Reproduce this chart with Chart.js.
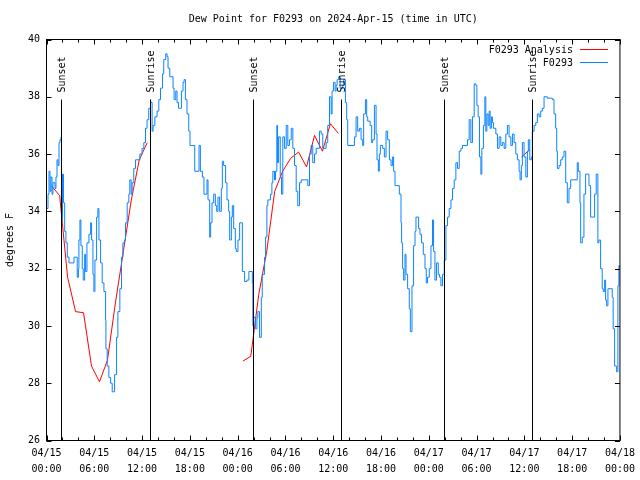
<!DOCTYPE html>
<html>
<head>
<meta charset="utf-8">
<script src="https://cdn.jsdelivr.net/npm/chart.js@4.4.1/dist/chart.umd.min.js"></script>
<style>
  html, body { margin: 0; padding: 0; background: #fff; }
  #chart { display: block; }
</style>
</head>
<body>
<canvas id="chart" width="640" height="480"></canvas>
<script>
const titleText = 'Dew Point for F0293 on 2024-Apr-15 (time in UTC)';
const yAxisTitle = 'degrees F';

// x axis in hours since 2024-04-15 00:00 UTC
const xTickLabels = [
    ['04/15', '00:00'], ['04/15', '06:00'], ['04/15', '12:00'], ['04/15', '18:00'],
    ['04/16', '00:00'], ['04/16', '06:00'], ['04/16', '12:00'], ['04/16', '18:00'],
    ['04/17', '00:00'], ['04/17', '06:00'], ['04/17', '12:00'], ['04/17', '18:00'],
    ['04/18', '00:00']
];

// sunset / sunrise markers
const eventHours = [1.83, 12.97, 25.87, 36.92, 49.92, 60.97];
const eventLabels = ['Sunset', 'Sunrise', 'Sunset', 'Sunrise', 'Sunset', 'Sunrise'];

// F0293 Analysis (hourly, null = gap)
const redHours = [0.65, 1.65, 2.65, 3.65, 4.65, 5.65, 6.65, 7.65, 8.65, 9.65, 10.65, 11.65, 12.65, null,
    24.65, 25.65, 26.65, 27.65, 28.65, 29.65, 30.65, 31.65, 32.65, 33.65, 34.65, 35.65, 36.65, null,
    59.65, 60.65];
const redValues = [34.88, 34.55, 31.7, 30.5, 30.46, 28.6, 28.05, 28.8, 30.8, 32.6, 34.4, 35.8, 36.4, null,
    28.77, 28.94, 31.1, 32.6, 34.7, 35.4, 35.85, 36.07, 35.55, 36.65, 36.1, 37.06, 36.72, null,
    35.9, 36.15];

// F0293 observations
const blueHours = [
    0.00, 0.19, 0.31, 0.44, 0.56, 0.69, 0.81, 1.07, 1.19, 1.32, 1.44, 1.57, 1.69, 1.82, 1.88, 2.01, 2.13, 2.28, 2.44, 2.61,
    2.82, 3.45, 3.86, 4.01, 4.07, 4.20, 4.32, 4.49, 4.61, 4.79, 4.91, 5.08, 5.33, 5.54, 5.66, 5.83, 5.95, 6.08, 6.29, 6.45,
    6.58, 6.79, 6.99, 7.21, 7.42, 7.46, 7.62, 7.83, 8.05, 8.25, 8.55, 8.80, 8.96, 9.21, 9.42, 9.59, 9.80, 9.92, 10.13, 10.34,
    10.46, 10.63, 10.75, 10.96, 11.18, 11.72, 12.00, 12.22, 12.43, 12.63, 12.84, 13.06, 13.26, 13.38, 13.60, 13.88, 14.10, 14.31, 14.56, 14.72,
    14.97, 15.14, 15.26, 15.48, 15.89, 16.02, 16.23, 16.39, 16.57, 16.94, 17.14, 17.27, 17.44, 17.64, 17.86, 18.02, 18.61, 19.15, 19.32, 19.57,
    19.77, 20.15, 20.28, 20.49, 20.61, 20.78, 20.99, 21.20, 21.37, 21.53, 21.74, 21.95, 22.08, 22.24, 22.49, 22.66, 22.87, 23.00, 23.21, 23.33,
    23.50, 23.71, 23.83, 24.04, 24.25, 24.59, 24.87, 25.16, 25.41, 25.84, 25.91, 26.00, 26.22, 26.42, 26.54, 26.75, 26.97, 27.09, 27.38, 27.51,
    27.67, 27.79, 28.13, 28.30, 28.42, 28.63, 28.76, 28.92, 29.01, 29.14, 29.35, 29.51, 29.67, 29.89, 30.10, 30.30, 30.51, 30.73, 30.93, 31.14,
    31.35, 31.55, 31.77, 31.98, 32.81, 33.02, 33.23, 33.43, 33.65, 33.86, 34.27, 34.49, 34.69, 35.11, 35.31, 35.53, 35.74, 35.86, 36.03, 36.24,
    36.37, 36.49, 36.69, 36.87, 37.19, 37.32, 37.53, 37.69, 37.82, 38.66, 38.87, 39.07, 39.29, 39.50, 39.70, 39.82, 40.04, 40.20, 40.33, 40.63,
    40.83, 40.95, 41.17, 41.38, 41.50, 41.67, 41.79, 41.92, 42.21, 42.42, 42.63, 42.83, 43.05, 43.26, 43.46, 43.58, 43.76, 44.30, 44.51, 44.59,
    44.71, 44.84, 45.01, 45.14, 45.34, 45.55, 45.68, 45.89, 46.09, 46.27, 46.39, 46.72, 46.89, 47.09, 47.31, 47.52, 47.68, 47.84, 48.06, 48.27,
    48.47, 48.60, 48.77, 48.97, 49.19, 49.35, 49.52, 49.72, 49.94, 50.15, 50.35, 50.56, 50.78, 50.98, 51.19, 51.40, 51.60, 51.82, 52.03, 52.23,
    52.86, 53.07, 53.28, 53.48, 53.70, 53.91, 54.04, 54.20, 54.36, 54.54, 54.66, 54.86, 55.04, 55.16, 55.29, 55.45, 55.58, 55.70, 55.86, 55.99,
    56.12, 56.42, 56.62, 56.83, 57.04, 57.24, 57.46, 57.67, 57.87, 58.08, 58.30, 58.50, 58.71, 58.92, 59.12, 59.34, 59.46, 59.62, 59.75, 59.96,
    60.18, 60.38, 60.50, 60.68, 60.88, 61.00, 61.22, 61.43, 61.63, 61.84, 62.05, 62.26, 62.47, 62.88, 63.51, 63.72, 63.93, 64.06, 64.14, 64.35,
    64.56, 64.76, 64.97, 65.19, 65.39, 65.60, 65.81, 66.64, 66.77, 66.98, 67.07, 67.27, 67.48, 67.69, 68.11, 68.32, 68.82, 69.02, 69.23, 69.36,
    69.57, 69.77, 69.90, 70.08, 70.20, 70.33, 70.49, 71.03, 71.15, 71.33, 71.58, 71.74, 71.87, 72.00
];
const blueValues = [
    34.1, 34.6, 35.4, 34.7, 35.2, 34.6, 35.0, 34.8, 35.2, 35.8, 35.6, 36.4, 36.5, 36.6, 33.7, 35.3, 34.3, 33.3, 32.9, 32.4,
    32.2, 32.4, 31.7, 32.0, 33.0, 33.7, 32.8, 32.0, 31.6, 32.5, 31.9, 32.9, 33.2, 33.6, 33.0, 31.8, 31.2, 32.3, 33.8, 34.1,
    33.0, 32.2, 31.5, 31.2, 30.2, 29.2, 28.6, 28.2, 28.0, 27.7, 28.3, 29.6, 30.5, 31.3, 32.4, 32.9, 33.0, 33.6, 34.3, 34.6,
    35.1, 34.6, 35.0, 35.5, 35.8, 36.0, 36.2, 36.4, 36.9, 37.2, 37.6, 37.8, 36.8, 37.0, 37.3, 37.5, 37.9, 38.3, 38.8, 39.3,
    39.5, 39.4, 39.0, 38.7, 38.3, 37.9, 38.2, 37.8, 37.6, 38.2, 38.5, 38.6, 37.9, 37.4, 36.8, 36.3, 35.4, 36.3, 35.4, 35.2,
    34.6, 35.1, 34.4, 33.1, 33.6, 34.3, 34.6, 34.2, 34.0, 34.5, 34.0, 34.8, 35.75, 35.6, 35.0, 34.4, 34.0, 33.0, 33.8, 34.2,
    33.4, 32.7, 32.6, 33.0, 33.6, 31.9, 31.55, 31.6, 31.9, 31.5, 30.0, 30.3, 29.9, 30.3, 30.5, 29.6, 31.0, 31.8, 32.4, 33.1,
    34.2, 34.4, 34.6, 35.0, 35.4, 35.1, 35.4, 37.0, 35.7, 36.6, 35.2, 34.6, 36.6, 36.2, 37.0, 36.3, 36.5, 36.9, 36.2, 35.6,
    34.7, 34.2, 35.0, 35.1, 34.9, 36.0, 36.3, 35.7, 36.0, 36.2, 36.8, 36.7, 36.2, 36.4, 37.0, 38.0, 37.4, 38.2, 38.5, 38.2,
    38.4, 38.6, 38.7, 38.3, 38.4, 38.6, 37.8, 37.2, 36.3, 36.6, 37.3, 36.8, 36.9, 36.5, 36.3, 37.4, 37.9, 37.3, 37.15, 37.0,
    36.4, 36.5, 37.7, 36.7, 35.8, 35.4, 36.0, 36.3, 36.2, 35.9, 36.8, 36.5, 35.8, 35.6, 35.9, 35.4, 34.9, 34.6, 33.6, 32.9,
    32.0, 31.6, 32.5, 31.8, 31.3, 30.6, 29.8, 31.4, 32.8, 33.3, 33.8, 33.4, 33.2, 32.9, 32.5, 32.0, 31.5, 31.7, 32.0, 32.8,
    33.7, 32.6, 31.6, 32.2, 31.8, 31.7, 31.4, 31.8, 32.3, 33.5, 33.8, 34.1, 34.4, 34.8, 35.1, 35.7, 35.5, 36.1, 36.2, 36.3,
    36.5, 37.2, 36.4, 37.3, 38.45, 38.4, 37.7, 37.3, 35.9, 35.3, 36.2, 37.0, 38.0, 36.8, 37.4, 37.0, 37.5, 36.9, 37.3, 37.1,
    36.9, 36.7, 36.2, 36.6, 36.3, 36.4, 36.2, 36.7, 37.0, 36.6, 36.3, 36.7, 36.4, 36.0, 35.8, 35.4, 35.1, 35.6, 36.4, 35.9,
    35.2, 36.1, 36.5, 35.8, 35.9, 36.8, 37.0, 37.1, 37.4, 37.3, 37.5, 37.6, 38.0, 37.95, 37.9, 37.4, 36.9, 36.1, 35.5, 35.6,
    35.8, 35.9, 36.1, 35.0, 34.3, 34.8, 35.1, 35.7, 35.4, 34.3, 32.9, 33.1, 34.6, 35.3, 34.9, 33.8, 34.6, 35.3, 32.9, 33.0,
    32.0, 31.3, 31.2, 31.6, 30.9, 30.7, 31.3, 31.0, 29.9, 28.6, 28.4, 31.4, 32.1, 32.0
];

const fontFamily = '"DejaVu Sans Mono", monospace';
Chart.defaults.font.family = fontFamily;
Chart.defaults.font.size = 10;
Chart.defaults.color = '#000';

function toPoints(xs, ys) {
    return xs.map((x, i) => ({ x: x, y: ys[i] }));
}

// draws the gnuplot-like frame, inner ticks, markers, title and key
const frame = {
    id: 'frame',
    beforeDraw(c) {
        const ctx = c.ctx;
        ctx.save();
        ctx.fillStyle = '#fff';
        ctx.fillRect(0, 0, c.width, c.height);
        ctx.restore();
    },
    afterDatasetsDraw(c) {
        const ctx = c.ctx;
        const a = c.chartArea;
        const xs = c.scales.x;
        const ys = c.scales.y;
        ctx.save();
        ctx.strokeStyle = '#000';
        ctx.lineWidth = 1;

        // sunrise / sunset lines
        const lineTop = a.top + 60;
        eventHours.forEach((h, i) => {
            const px = Math.round(xs.getPixelForValue(h)) + 0.5;
            ctx.beginPath();
            ctx.moveTo(px, lineTop);
            ctx.lineTo(px, a.bottom);
            ctx.stroke();
            ctx.save();
            ctx.translate(px + 1, lineTop - 7);
            ctx.rotate(-Math.PI / 2);
            ctx.fillStyle = '#000';
            ctx.font = '10px ' + fontFamily;
            ctx.textAlign = 'left';
            ctx.textBaseline = 'middle';
            ctx.fillText(eventLabels[i], 0, 0);
            ctx.restore();
        });

        // border
        ctx.strokeRect(a.left, a.top, a.right - a.left, a.bottom - a.top);

        // y ticks on both sides
        for (let v = ys.min; v <= ys.max; v += 2) {
            const py = Math.round(ys.getPixelForValue(v)) + 0.5;
            ctx.beginPath();
            ctx.moveTo(a.left, py); ctx.lineTo(a.left + 5, py);
            ctx.moveTo(a.right, py); ctx.lineTo(a.right - 5, py);
            ctx.stroke();
        }
        // x ticks, every 2 hours, top and bottom
        for (let h = 0; h <= 72; h += 2) {
            const px = Math.round(xs.getPixelForValue(h)) + 0.5;
            const len = h % 6 === 0 ? 5 : 3;
            ctx.beginPath();
            ctx.moveTo(px, a.bottom); ctx.lineTo(px, a.bottom - len);
            ctx.moveTo(px, a.top); ctx.lineTo(px, a.top + len);
            ctx.stroke();
        }

        ctx.fillStyle = '#000';
        ctx.font = '10px ' + fontFamily;
        ctx.textBaseline = 'middle';

        // title
        ctx.textAlign = 'center';
        ctx.fillText(titleText, (a.left + a.right) / 2, 19);

        // y axis title
        ctx.save();
        ctx.translate(10, (a.top + a.bottom) / 2);
        ctx.rotate(-Math.PI / 2);
        ctx.fillText(yAxisTitle, 0, 0);
        ctx.restore();

        // key
        ctx.textAlign = 'right';
        c.data.datasets.forEach((ds, i) => {
            const ky = a.top + 10.5 + i * 13;
            ctx.fillText(ds.label, a.right - 47, ky);
            ctx.strokeStyle = ds.borderColor;
            ctx.beginPath();
            ctx.moveTo(a.right - 40, Math.round(ky) - 0.5);
            ctx.lineTo(a.right - 12, Math.round(ky) - 0.5);
            ctx.stroke();
        });
        ctx.restore();
    }
};

new Chart(document.getElementById('chart'), {
    type: 'line',
    data: {
        datasets: [{
            label: 'F0293 Analysis',
            data: toPoints(redHours, redValues),
            borderColor: '#ff0000',
            borderWidth: 1,
            pointRadius: 0,
            spanGaps: false,
            order: 2
        }, {
            label: 'F0293',
            data: toPoints(blueHours, blueValues),
            borderColor: '#0a84ff',
            borderWidth: 1,
            pointRadius: 0,
            stepped: 'before',
            order: 1
        }]
    },
    options: {
        responsive: false,
        animation: false,
        devicePixelRatio: 1,
        layout: { padding: { left: 0, right: 18.5, top: 39.5, bottom: 0 } },
        plugins: {
            legend: { display: false },
            title: { display: false },
            tooltip: { enabled: false }
        },
        scales: {
            x: {
                type: 'linear',
                min: 0,
                max: 72,
                grid: { display: false, drawTicks: false },
                border: { display: false },
                afterFit: (s) => { s.height = 39.5; },
                ticks: {
                    stepSize: 6,
                    padding: 5,
                    maxRotation: 0,
                    autoSkip: false,
                    font: { size: 10, lineHeight: 1.6 },
                    callback: (v) => xTickLabels[v / 6]
                }
            },
            y: {
                min: 26,
                max: 40,
                grid: { display: false, drawTicks: false },
                border: { display: false },
                afterFit: (s) => { s.width = 46.5; },
                ticks: { stepSize: 2, padding: 6.5 }
            }
        }
    },
    plugins: [frame]
});
</script>
</body>
</html>
